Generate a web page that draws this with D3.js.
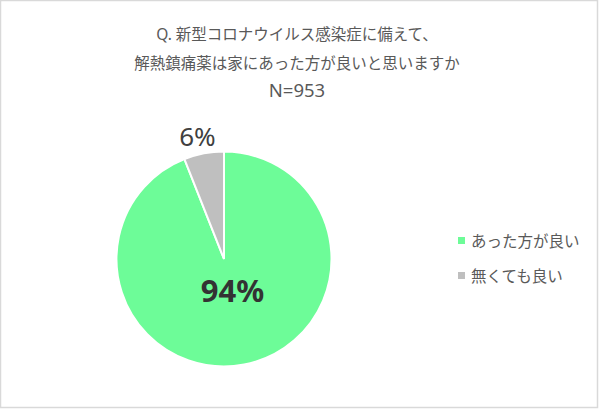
<!DOCTYPE html>
<html>
<head>
<meta charset="utf-8">
<script src="https://cdn.jsdelivr.net/npm/d3@7"></script>
<style>
  body { margin: 0; background: #fff; }
  text { font-family: "Noto Sans", "Noto Sans CJK JP", sans-serif; }
</style>
</head>
<body>
<script>
const w = 600;
const h = 410;

const titleLines = ["Q. 新型コロナウイルス感染症に備えて、", "解熱鎮痛薬は家にあった方が良いと思いますか", "N=953"];
const categories = ["あった方が良い", "無くても良い"];
const values = [94, 6];
const colors = ["#6dfc98", "#bfbfbf"];

const svg = d3.select("body").append("svg").attr("width", w).attr("height", h);

// frame
svg
  .append("rect")
  .attr("x", 0.5)
  .attr("y", 0.5)
  .attr("width", w - 3)
  .attr("height", h - 3)
  .attr("fill", "#fff")
  .attr("stroke", "#d9d9d9")
  .attr("stroke-width", 1.5);

// title
svg
  .selectAll(".title")
  .data(titleLines)
  .enter()
  .append("text")
  .attr("class", "title")
  .attr("x", 297)
  .attr("y", (d, i) => 40 + i * 28.5)
  .attr("text-anchor", "middle")
  .attr("font-size", (d, i) => (i === 2 ? 18.5 : 15.5))
  .attr("fill", "#595959")
  .text((d) => d);

const cx = 224;
const cy = 259;
const r = 107.5;

const data = categories.map((c, i) => ({ name: c, value: values[i] }));
const pie = d3.pie().sort(null).value((d) => d.value);
const arcs = pie(data);
const arc = d3.arc().innerRadius(0).outerRadius(r);

const g = svg.append("g").attr("transform", `translate(${cx}, ${cy})`);

g.selectAll("path")
  .data(arcs)
  .enter()
  .append("path")
  .attr("d", arc)
  .attr("fill", (d, i) => colors[i])
  .attr("stroke", "#fff")
  .attr("stroke-width", 2);

// labels
const inner = d3.arc().innerRadius(r * 0.42).outerRadius(r * 0.42);
const outer = d3.arc().innerRadius(r * 1.12).outerRadius(r * 1.12);

g.append("text")
  .attr("x", inner.centroid(arcs[0])[0])
  .attr("y", inner.centroid(arcs[0])[1] - 1)
  .attr("text-anchor", "middle")
  .attr("font-size", 31)
  .attr("font-weight", "bold")
  .attr("fill", "#333")
  .text(values[0] + "%");

g.append("text")
  .attr("x", outer.centroid(arcs[1])[0] - 4)
  .attr("y", outer.centroid(arcs[1])[1] + 5)
  .attr("text-anchor", "middle")
  .attr("font-size", 26)
  .attr("fill", "#404040")
  .text(values[1] + "%");

// legend
const legend = svg
  .selectAll(".legend")
  .data(categories)
  .enter()
  .append("g")
  .attr("class", "legend")
  .attr("transform", (d, i) => `translate(458, ${241 + i * 35})`);

legend
  .append("rect")
  .attr("x", 0)
  .attr("y", -4)
  .attr("width", 7)
  .attr("height", 7)
  .attr("fill", (d, i) => colors[i]);

legend
  .append("text")
  .attr("x", 13)
  .attr("y", 6)
  .attr("font-size", 15.5)
  .attr("fill", "#595959")
  .text((d) => d);
</script>
</body>
</html>
